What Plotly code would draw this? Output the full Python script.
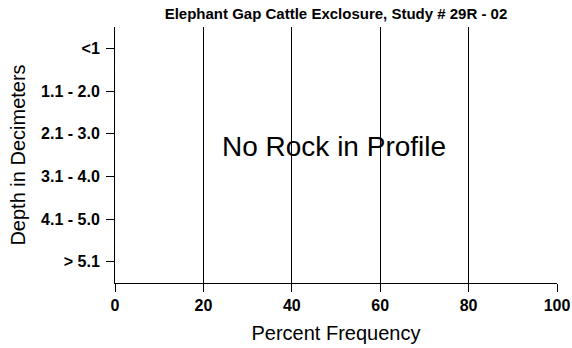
import plotly.graph_objects as go

depth_labels = ["<1", "1.1 - 2.0", "2.1 - 3.0", "3.1 - 4.0", "4.1 - 5.0", "> 5.1"]
rock_frequency = [0, 0, 0, 0, 0, 0]
x_ticks = [0, 20, 40, 60, 80, 100]

FONT = "Liberation Sans, Arial, sans-serif"

fig = go.Figure()
fig.add_trace(go.Bar(
    x=rock_frequency, y=depth_labels, orientation="h",
    marker=dict(color="#808080"), showlegend=False, hoverinfo="skip",
))

fig.update_layout(
    width=572, height=348,
    margin=dict(l=115, r=15, t=27, b=65, autoexpand=False),
    paper_bgcolor="white", plot_bgcolor="white",
    font=dict(family=FONT, color="black"),
    title=dict(
        text="<b>Elephant Gap Cattle Exclosure, Study # 29R - 02</b>",
        x=(115 + 557) / 2 / 572, xanchor="center", xref="container",
        y=1 - 14 / 348, yref="container", yanchor="middle",
        font=dict(size=15, family=FONT, color="black"),
        automargin=False,
    ),
    annotations=[dict(
        text="No Rock in Profile", x=49.5, y=2.3, xref="x", yref="y",
        showarrow=False, font=dict(size=28, family=FONT, color="black"),
    )],
)

fig.update_xaxes(
    range=[0, 100], tickvals=x_ticks, ticktext=[f"<b>{v}</b>" for v in x_ticks],
    showgrid=True, gridcolor="black", gridwidth=1,
    showline=True, linecolor="black", linewidth=1,
    ticks="outside", ticklen=8, tickcolor="black",
    tickfont=dict(size=16, family=FONT, color="black"),
    title=dict(text="Percent Frequency", font=dict(size=20, family=FONT, color="black"), standoff=12),
    zeroline=False, fixedrange=True, automargin=False,
)
fig.update_yaxes(
    type="category", categoryorder="array", categoryarray=depth_labels,
    range=[5.5, -0.5], autorange=False,
    ticktext=[f"<b>{v}</b>" for v in depth_labels], tickvals=depth_labels,
    showgrid=False, showline=True, linecolor="black", linewidth=1,
    ticks="outside", ticklen=8, tickcolor="black", ticklabelstandoff=3,
    tickfont=dict(size=16, family=FONT, color="black"),
    title=dict(text="Depth in Decimeters", font=dict(size=20, family=FONT, color="black"), standoff=10),
    zeroline=False, fixedrange=True, automargin=False,
)

fig.write_html("out.html", config={"displayModeBar": False},
               post_script="document.body.style.margin='0';")
